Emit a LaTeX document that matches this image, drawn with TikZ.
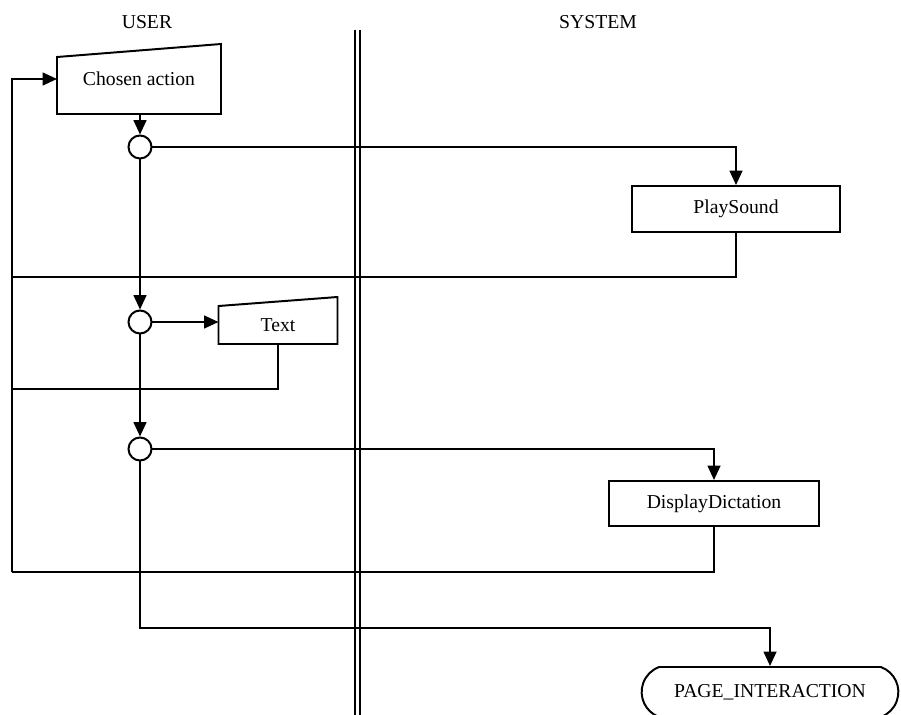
\documentclass[tikz,border=0pt]{standalone}
\usepackage{fontspec}
\setmainfont{Liberation Serif}
\usetikzlibrary{arrows.meta,shapes.misc}

\begin{document}
\begin{tikzpicture}[
  x=0.025cm,y=-0.025cm,
  >={Triangle[length=3.6mm,width=3.2mm]},
  line width=1.4pt,
  every node/.style={font=\fontsize{14}{16}\selectfont},
  proc/.style={draw,rectangle,minimum height=1.15cm},
  manual/.style={rectangle,inner sep=0pt},
  junc/.style={draw,circle,fill=white,minimum size=0.575cm,inner sep=0pt},
  term/.style={draw,rounded rectangle,rounded rectangle arc length=140,minimum width=6.65cm,minimum height=1.25cm},
]
  \useasboundingbox (0,0) rectangle (901,715);

  % lanes
  \node (user) at (147,22) {USER};
  \node (sys) at (598,22) {SYSTEM};
  \draw (355,30) -- (355,715);
  \draw (360,30) -- (360,715);

  % user side
  \node[manual,minimum width=4.05cm,minimum height=1.7cm] (ca) at (139,79) {Chosen action};
  \draw (ca.south west) -- ([yshift=-0.325cm]ca.north west) -- (ca.north east) -- (ca.south east) -- cycle;
  \node[junc] (c1) at (140,147) {};
  \node[junc] (c2) at (140,322) {};
  \node[junc] (c3) at (140,449) {};
  \node[manual,minimum width=2.925cm,minimum height=0.9cm] (tx) at (278,325) {Text};
  \draw (tx.south west) -- (tx.north west) -- ([yshift=0.225cm]tx.north east) -- (tx.south east) -- cycle;

  % system side
  \node[proc,minimum width=5.2cm] (ps) at (736,209) {PlaySound};
  \node[proc,minimum width=5.225cm,minimum height=1.125cm] (dd) at (714,503.5) {DisplayDictation};
  \node[term] (pi) at (770,692) {PAGE\_INTERACTION};

  \coordinate (r1) at (12,277);
  \coordinate (r2) at (12,389);
  \coordinate (r3) at (12,572);
  \coordinate (k) at (140,628);

  \draw[->] (ca.south -| c1) -- (c1);
  \foreach \a/\b in {c1/c2,c2/c3}
    \draw[->] (\a) -- (\b);
  \draw[->] (c1) -| (ps);
  \draw[->] (c2) -- (c2 -| tx.west);
  \draw[->] (c3) -| (dd);
  \draw[->] (c3) -- (k) -| (pi);

  % back to the chosen action
  \draw (ps) |- (r1);
  \draw (tx) |- (r2);
  \draw (dd) |- (r3);
  \draw[->] (r3) |- (ca.west);
\end{tikzpicture}
\end{document}
